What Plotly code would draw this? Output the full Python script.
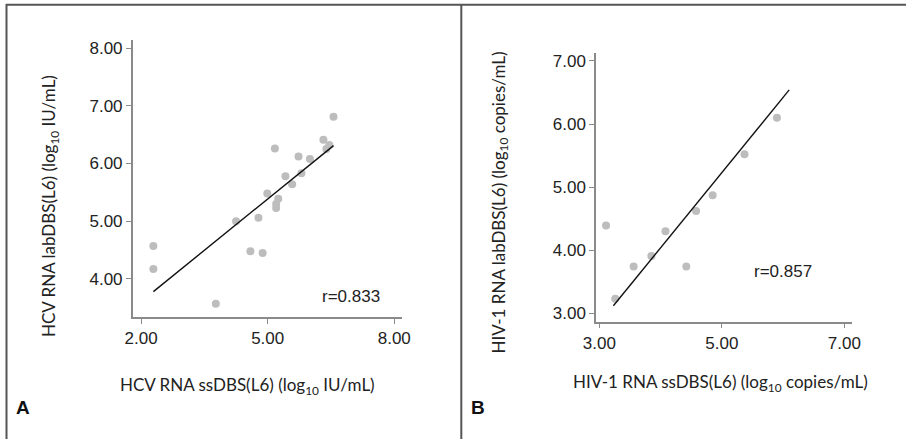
import plotly.graph_objects as go

# Panel A: HCV
hcv_ss = [2.29, 2.29, 3.77, 4.25, 4.59, 4.78, 4.88, 4.99, 5.17, 5.20, 5.20, 5.25,
          5.42, 5.58, 5.73, 5.80, 6.00, 6.32, 6.46, 6.39, 6.56]
hcv_lab = [4.57, 4.17, 3.57, 5.00, 4.48, 5.06, 4.45, 5.48, 6.26, 5.30, 5.23, 5.39,
           5.78, 5.64, 6.12, 5.83, 6.08, 6.41, 6.32, 6.25, 6.81]
hcv_fit_x = [2.29, 6.56]
hcv_fit_y = [3.78, 6.31]
hcv_r = "r=0.833"

# Panel B: HIV-1
hiv_ss = [3.11, 3.26, 3.56, 3.85, 4.08, 4.42, 4.58, 4.85, 5.37, 5.90]
hiv_lab = [4.39, 3.23, 3.74, 3.91, 4.30, 3.74, 4.62, 4.87, 5.52, 6.10]
hiv_fit_x = [3.23, 6.10]
hiv_fit_y = [3.12, 6.54]
hiv_r = "r=0.857"

W, H = 906, 439
def px(x): return x / W
def py(y): return 1 - y / H

pt_color = "#bdbdbd"
axis_color = "#8a8a8a"
tick_font = dict(family="Liberation Sans, Arial", size=17, color="#222")
title_font = dict(family="Lato, Open Sans", size=17, color="#222")

fig = go.Figure()
fig.add_trace(go.Scatter(x=hcv_ss, y=hcv_lab, mode="markers",
                         marker=dict(color=pt_color, size=8), xaxis="x", yaxis="y", showlegend=False))
fig.add_trace(go.Scatter(x=hcv_fit_x, y=hcv_fit_y, mode="lines",
                         line=dict(color="#111", width=1.4), xaxis="x", yaxis="y", showlegend=False))
fig.add_trace(go.Scatter(x=hiv_ss, y=hiv_lab, mode="markers",
                         marker=dict(color=pt_color, size=8), xaxis="x2", yaxis="y2", showlegend=False))
fig.add_trace(go.Scatter(x=hiv_fit_x, y=hiv_fit_y, mode="lines",
                         line=dict(color="#111", width=1.4), xaxis="x2", yaxis="y2", showlegend=False))

ax_common = dict(showline=True, linecolor=axis_color, linewidth=1.5, ticks="outside",
                 ticklen=5, tickcolor=axis_color, tickwidth=1, showgrid=False, zeroline=False,
                 tickformat=".2f", tickfont=tick_font, fixedrange=True, automargin=False)

fig.update_layout(
    width=W, height=H, margin=dict(l=0, r=0, t=0, b=0, pad=0), autosize=False,
    paper_bgcolor="white", plot_bgcolor="white",
    xaxis=dict(domain=[px(132.7), px(402.3)], range=[1.80, 8.19], tickvals=[2, 5, 8],
               anchor="y", **ax_common),
    yaxis=dict(domain=[py(317.3), py(40)], range=[3.335, 8.14], tickvals=[4, 5, 6, 7, 8],
               anchor="x", **ax_common),
    xaxis2=dict(domain=[px(596), px(852.3)], range=[2.946, 7.13], tickvals=[3, 5, 7],
                anchor="y2", **ax_common),
    yaxis2=dict(domain=[py(321.7), py(52.7)], range=[2.867, 7.13], tickvals=[3, 4, 5, 6, 7],
                anchor="x2", **ax_common),
)

def pann(x, y, text, font, angle=0):
    return dict(x=px(x), y=py(y), xref="paper", yref="paper", xanchor="center", yanchor="middle",
                textangle=angle, showarrow=False, text=text, font=font)

ann = []
ann.append(dict(x=6.98, y=3.69, xref="x", yref="y", text=hcv_r, showarrow=False, font=tick_font,
                xanchor="center", yanchor="middle"))
ann.append(dict(x=6.0, y=3.67, xref="x2", yref="y2", text=hiv_r, showarrow=False, font=tick_font,
                xanchor="center", yanchor="middle"))
ann.append(pann(50, 206, "HCV RNA labDBS(L6) (log<sub>10</sub> IU/mL)", title_font, -90))
ann.append(pann(247, 386, "HCV RNA ssDBS(L6) (log<sub>10</sub> IU/mL)", title_font))
ann.append(pann(500, 202.5, "HIV-1 RNA labDBS(L6) (log<sub>10</sub> copies/mL)", title_font, -90))
ann.append(pann(720.7, 383, "HIV-1 RNA ssDBS(L6) (log<sub>10</sub> copies/mL)", title_font))
lab_font = dict(family="Liberation Sans, Arial", size=19, color="#111")
ann.append(pann(23, 407, "<b>A</b>", lab_font))
ann.append(pann(478, 407, "<b>B</b>", lab_font))
fig.update_layout(annotations=ann)

border = dict(color="#555", width=2)
fig.update_layout(shapes=[
    dict(type="line", xref="paper", yref="paper", x0=px(6), x1=1, y0=py(4.7), y1=py(4.7), line=border),
    dict(type="line", xref="paper", yref="paper", x0=px(6.5), x1=px(6.5), y0=py(4), y1=0, line=border),
    dict(type="line", xref="paper", yref="paper", x0=px(461.3), x1=px(461.3), y0=py(4), y1=0, line=border),
])

fig.write_html("out.html", config={"displayModeBar": False})
